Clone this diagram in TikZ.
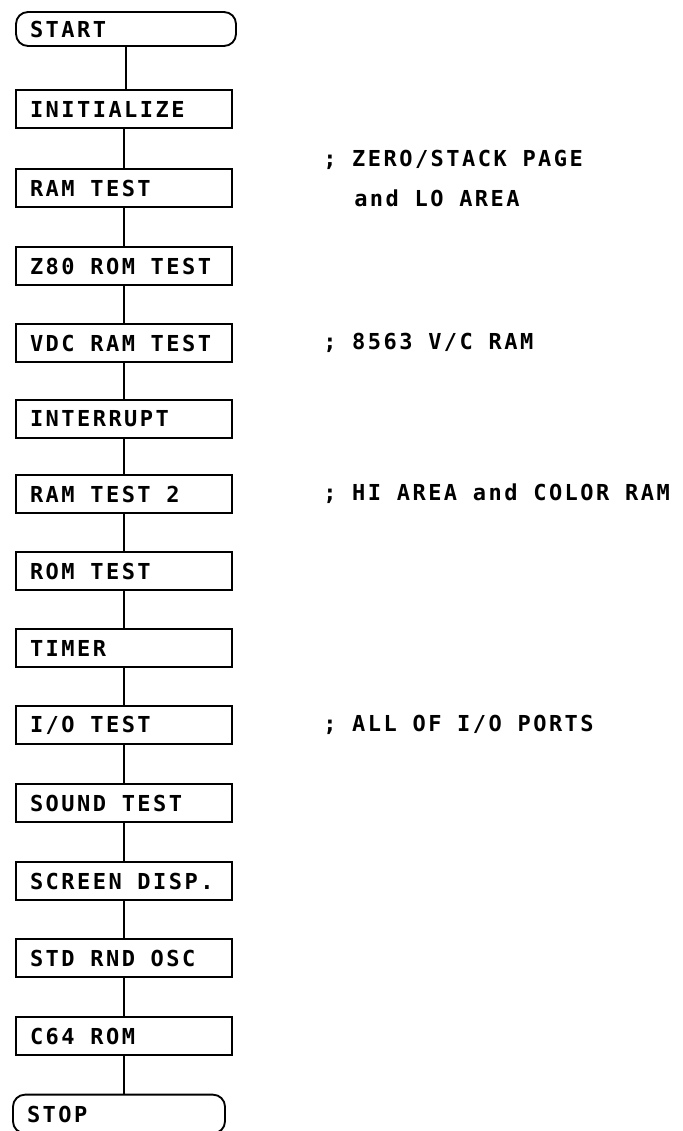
\documentclass[tikz,border=0pt]{standalone}
\usepackage{fontspec}
\newfontfamily\flowfont[LetterSpace=11.2]{DejaVu Sans Mono Bold}
\newcommand\flowtext{\flowfont\fontsize{16.5pt}{19pt}\selectfont}
\begin{document}
\begin{tikzpicture}[x=0.75pt,y=-0.75pt,
  every node/.style={font=\flowtext,execute at begin node={\spaceskip=11.78pt\relax}},
  stepbox/.style={draw,line width=1.4pt,rectangle,minimum height=28.5pt,
    text width=141pt,inner xsep=10.5pt,inner ysep=0pt,align=left},
  termbox/.style={stepbox,rounded corners=9pt,text width=144pt},
  note/.style={anchor=west,inner sep=0pt},
  link/.style={line width=1.1pt}]
\useasboundingbox (0,0) rectangle (682,1131);
\clip (0,0) rectangle (682,1131);
\node[termbox,minimum height=25.5pt] (start) at (126,29) {START};
\node[stepbox] (init) at (124,109) {INITIALIZE};
\node[stepbox] (ram) at (124,188) {RAM TEST};
\node[stepbox] (z80) at (124,266) {Z80 ROM TEST};
\node[stepbox] (vdc) at (124,343) {VDC RAM TEST};
\node[stepbox] (intr) at (124,419) {INTERRUPT};
\node[stepbox] (ram2) at (124,494) {RAM TEST 2};
\node[stepbox] (rom) at (124,571) {ROM TEST};
\node[stepbox] (timer) at (124,648) {TIMER};
\node[stepbox] (io) at (124,725) {I/O TEST};
\node[stepbox] (sound) at (124,803) {SOUND TEST};
\node[stepbox] (screen) at (124,881) {SCREEN DISP.};
\node[stepbox] (std) at (124,958) {STD RND OSC};
\node[stepbox] (c64) at (124,1036) {C64 ROM};
\node[termbox,text width=138pt,minimum height=29pt] (stop) at (119,1114) {STOP};
\draw[link] (start) -- (start |- init.north);
\foreach \a/\b in {init/ram,ram/z80,z80/vdc,vdc/intr,intr/ram2,ram2/rom,rom/timer,timer/io,io/sound,sound/screen,screen/std,std/c64}
  \draw[link] (\a) -- (\b);
\draw[link] (c64.south) -- (c64.south |- stop.north);
\node[note] (n1) at (323,160) {; ZERO/STACK PAGE};
\node[note] (n2) at (354,198) {and LO AREA};
\node[note] (n3) at (323,343) {; 8563 V/C RAM};
\node[note] (n4) at (323,494) {; HI AREA and COLOR RAM};
\node[note] (n5) at (323,725) {; ALL OF I/O PORTS};
\end{tikzpicture}
\end{document}
